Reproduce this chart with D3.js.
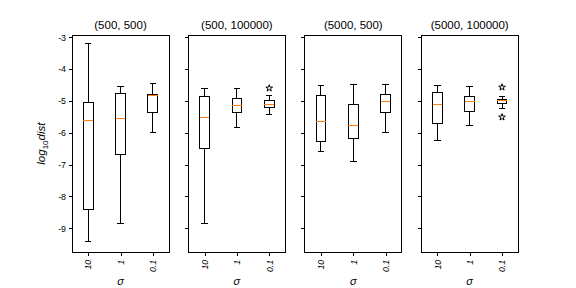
<!DOCTYPE html>
<html>
<head>
<meta charset="utf-8">
<script src="https://cdn.jsdelivr.net/npm/d3@7"></script>
<style>
  body { margin: 0; background: #fff; }
  text { font-family: "Liberation Sans", Arial, sans-serif; fill: #000; }
  line, rect { shape-rendering: crispEdges; }
</style>
</head>
<body>
<div class="chart"></div>
<script>
// panel titles and box categories
var panelTitles = ["(500, 500)", "(500, 100000)", "(5000, 500)", "(5000, 100000)"];
var sigmaLabels = ["10", "1", "0.1"];
var yTicks = [-3, -4, -5, -6, -7, -8, -9];

// box stats per panel, one value per sigma
var whiskerHigh = [
    [-3.21, -4.55, -4.45],
    [-4.61, -4.61, -4.83],
    [-4.52, -4.48, -4.48],
    [-4.52, -4.55, -4.85]
];
var q3 = [
    [-5.04, -4.76, -4.81],
    [-4.85, -4.93, -4.98],
    [-4.83, -5.12, -4.79],
    [-4.73, -4.85, -4.95]
];
var medians = [
    [-5.60, -5.55, -4.82],
    [-5.51, -5.14, -5.11],
    [-5.64, -5.76, -5.01],
    [-5.11, -5.03, -4.98]
];
var q1 = [
    [-8.40, -6.68, -5.36],
    [-6.49, -5.36, -5.20],
    [-6.27, -6.17, -5.36],
    [-5.70, -5.33, -5.07]
];
var whiskerLow = [
    [-9.43, -8.84, -5.99],
    [-8.84, -5.83, -5.42],
    [-6.58, -6.90, -5.99],
    [-6.23, -5.76, -5.23]
];
// outliers: [sigma index, value]
var fliers = [
    [],
    [[2, -4.60]],
    [],
    [[2, -4.57], [2, -5.51]]
];

//size of the svg
var svgWidth = 576;
var svgHeight = 288;

var margin = { top: 35, left: 72 };
var panelWidth = 97;
var panelHeight = 217.3;
var panelStep = 116.4;

var svg = d3.select(".chart")
    .append("svg")
    .attr("width", svgWidth)
    .attr("height", svgHeight);

//shared scales
var xScale = d3.scaleLinear()
    .domain([0.5, 3.5])
    .range([0, panelWidth]);

var yScale = d3.scaleLinear()
    .domain([-9.755, -2.928])
    .range([panelHeight, 0]);

var boxW = xScale(1.3) - xScale(1);
var capW = xScale(1.2) - xScale(1);

panelTitles.forEach(function(title, p) {
    var g = svg.append("g")
        .attr("transform", `translate(${margin.left + p * panelStep}, ${margin.top})`);

    //y axis, labels only on the first panel
    var leftAxis = d3.axisLeft(yScale)
        .tickValues(yTicks)
        .tickSize(3.5)
        .tickPadding(2.5)
        .tickFormat(p === 0 ? d => String(d) : "");
    var ya = g.append("g").call(leftAxis);
    ya.select(".domain").remove();
    ya.selectAll("text").attr("font-size", 8.8).attr("font-family", "Liberation Sans, Arial, sans-serif");

    //x axis with rotated sigma labels
    var botAxis = d3.axisBottom(xScale)
        .tickValues([1, 2, 3])
        .tickSize(3.5)
        .tickFormat((d, i) => sigmaLabels[i]);
    var xa = g.append("g")
        .attr("transform", `translate(0, ${panelHeight})`)
        .call(botAxis);
    xa.select(".domain").remove();
    xa.selectAll("text")
        .attr("font-size", 8.8)
        .attr("font-style", "italic")
        .attr("font-family", "Liberation Sans, Arial, sans-serif")
        .attr("text-anchor", "end")
        .attr("dy", "0.32em")
        .attr("transform", "translate(0, 7.5) rotate(-90)")
        .attr("x", 0)
        .attr("y", 0);

    //frame
    g.append("rect")
        .attr("width", panelWidth)
        .attr("height", panelHeight)
        .attr("fill", "none")
        .attr("stroke", "#000")
        .attr("stroke-width", 1);

    //title
    g.append("text")
        .attr("x", panelWidth / 2)
        .attr("y", -6.5)
        .attr("text-anchor", "middle")
        .attr("font-size", 11.5)
        .text(title);

    //x label
    g.append("text")
        .attr("x", panelWidth / 2)
        .attr("y", 250)
        .attr("text-anchor", "middle")
        .attr("font-size", 11)
        .attr("font-style", "italic")
        .attr("font-family", "DejaVu Sans, sans-serif")
        .text("σ");

    //boxes
    sigmaLabels.forEach(function(s, i) {
        var cx = xScale(i + 1);
        var bg = g.append("g")
            .attr("stroke", "#000")
            .attr("stroke-width", 1)
            .attr("fill", "none");

        //whiskers
        bg.append("line")
            .attr("x1", cx).attr("x2", cx)
            .attr("y1", yScale(whiskerHigh[p][i]))
            .attr("y2", yScale(q3[p][i]));
        bg.append("line")
            .attr("x1", cx).attr("x2", cx)
            .attr("y1", yScale(q1[p][i]))
            .attr("y2", yScale(whiskerLow[p][i]));

        //caps
        [whiskerHigh[p][i], whiskerLow[p][i]].forEach(function(v) {
            bg.append("line")
                .attr("x1", cx - capW / 2).attr("x2", cx + capW / 2)
                .attr("y1", yScale(v)).attr("y2", yScale(v));
        });

        bg.append("rect")
            .attr("x", cx - boxW / 2)
            .attr("y", yScale(q3[p][i]))
            .attr("width", boxW)
            .attr("height", yScale(q1[p][i]) - yScale(q3[p][i]));

        //median
        g.append("line")
            .attr("x1", cx - boxW / 2).attr("x2", cx + boxW / 2)
            .attr("y1", yScale(medians[p][i])).attr("y2", yScale(medians[p][i]))
            .attr("stroke", "#ff7f0e")
            .attr("stroke-width", 1);
    });

    //outliers as star markers
    g.selectAll(".flier")
        .data(fliers[p])
        .enter()
        .append("path")
        .attr("class", "flier")
        .attr("d", d3.symbol().type(d3.symbolStar).size(14))
        .attr("transform", d => `translate(${xScale(d[0] + 1)}, ${yScale(d[1])})`)
        .attr("fill", "none")
        .attr("stroke", "#000")
        .attr("stroke-width", 1);
});

//y axis label
var yLabel = svg.append("text")
    .attr("transform", `translate(45, ${margin.top + panelHeight / 2}) rotate(-90)`)
    .attr("text-anchor", "middle")
    .attr("font-size", 11.5)
    .attr("font-family", "DejaVu Sans, sans-serif")
    .attr("font-style", "italic");
yLabel.append("tspan").text("log");
yLabel.append("tspan").attr("font-size", 8).attr("font-style", "normal").attr("dy", 2.5).text("10");
yLabel.append("tspan").attr("dy", -2.5).text("dist");
</script>
</body>
</html>
